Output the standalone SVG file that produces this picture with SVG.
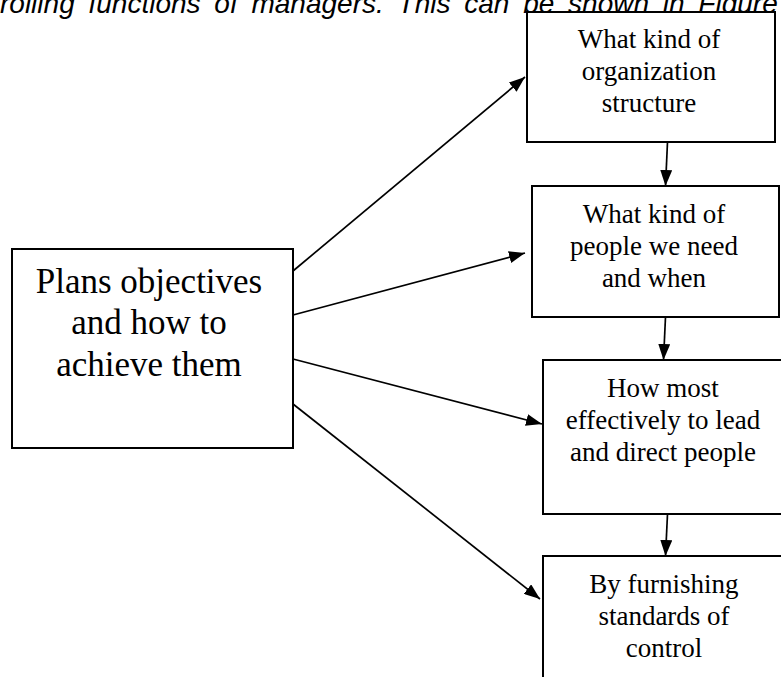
<svg xmlns="http://www.w3.org/2000/svg" width="781" height="677" viewBox="0 0 781 677">
<defs>
<marker id="ah" viewBox="0 0 16 12" refX="16" refY="6" markerWidth="16" markerHeight="12" markerUnits="userSpaceOnUse" orient="auto">
<path d="M0,0 L16,6 L0,12 z" fill="#000"/>
</marker>
<style>
.box{fill:#fff;stroke:#000;stroke-width:2}
.t{font-family:"Liberation Serif","Times New Roman",serif;font-size:27px;fill:#000;text-anchor:middle}
.tl{font-family:"Liberation Serif","Times New Roman",serif;font-size:35px;fill:#000;text-anchor:middle}
.c{stroke:#000;stroke-width:1.7;fill:none;marker-end:url(#ah)}
.cap{font-family:"Liberation Sans",Arial,sans-serif;font-style:italic;font-size:28px;word-spacing:6px;fill:#000}
</style>
</defs>
<rect width="781" height="677" fill="#fff"/>
<text class="cap" x="0" y="12.5">rolling functions of managers. This can be shown in Figure</text>
<g id="connectors">
<line class="c" x1="293" y1="271" x2="525" y2="77"/>
<line class="c" x1="293" y1="315" x2="525" y2="253"/>
<line class="c" x1="293" y1="359" x2="542" y2="424"/>
<line class="c" x1="293" y1="404" x2="540" y2="599"/>
<line class="c" x1="667.5" y1="142" x2="665.5" y2="186"/>
<line class="c" x1="665.5" y1="317" x2="663.5" y2="360"/>
<line class="c" x1="667.5" y1="514" x2="665.5" y2="556"/>
</g>
<g id="plans">
<rect class="box" x="12" y="249" width="281" height="199"/>
<text class="tl" x="149" y="293">Plans objectives</text>
<text class="tl" x="149" y="334">and how to</text>
<text class="tl" x="149" y="376">achieve them</text>
</g>
<g id="organization">
<rect class="box" x="527" y="12" width="248" height="130"/>
<text class="t" x="649" y="48">What kind of</text>
<text class="t" x="649" y="80">organization</text>
<text class="t" x="649" y="112">structure</text>
</g>
<g id="people">
<rect class="box" x="532" y="186" width="247" height="131"/>
<text class="t" x="654" y="223">What kind of</text>
<text class="t" x="654" y="255">people we need</text>
<text class="t" x="654" y="287">and when</text>
</g>
<g id="lead">
<rect class="box" x="543" y="360" width="245" height="154"/>
<text class="t" x="663" y="397">How most</text>
<text class="t" x="663" y="429">effectively to lead</text>
<text class="t" x="663" y="461">and direct people</text>
</g>
<g id="control">
<rect class="box" x="543" y="556" width="245" height="140"/>
<text class="t" x="664" y="593">By furnishing</text>
<text class="t" x="664" y="625">standards of</text>
<text class="t" x="664" y="657">control</text>
</g>
</svg>
